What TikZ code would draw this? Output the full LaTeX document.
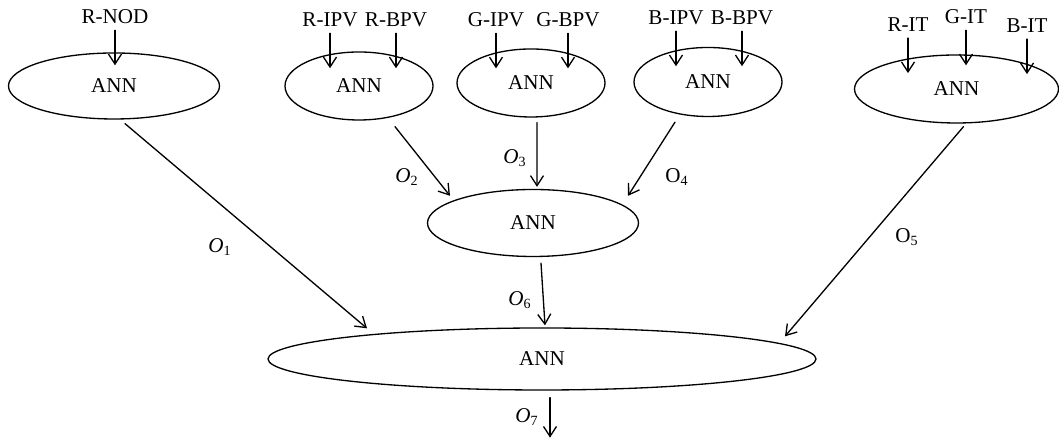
\documentclass[tikz,border=0pt]{standalone}
\usepackage{fontspec}
\setmainfont{Liberation Serif}
\usepackage{tikz}
\usetikzlibrary{calc,shapes.geometric,arrows.meta}
\tikzset{
  every picture/.style={line cap=round, line join=round},
  net/.style={draw=black, ellipse, inner sep=0pt, line width=0.75pt, font=\fontsize{12}{14}\selectfont},
  inp/.style={text=black, font=\fontsize{12}{14}\selectfont},
  arr/.style={draw=black, line width=0.75pt, -{Straight Barb[length=2mm, width=2.6mm]}},
  lab/.style={text=black, font=\fontsize{12}{14}\selectfont}
}

\begin{document}
\begin{tikzpicture}
  \useasboundingbox (0,0) rectangle (21.18,8.76);

  % first layer networks
  \node[net, minimum width=4.22cm, minimum height=1.32cm] (e1) at (2.28,7.04) {ANN};
  \node[net, minimum width=2.96cm, minimum height=1.36cm] (e2) at (7.18,7.04) {ANN};
  \node[net, minimum width=2.96cm, minimum height=1.36cm] (e3) at (10.62,7.10) {ANN};
  \node[net, minimum width=2.96cm, minimum height=1.38cm] (e4) at (14.16,7.12) {ANN};
  \node[net, minimum width=4.08cm, minimum height=1.36cm] (e5) at (19.13,6.98) {ANN};

  % second and third layer
  \node[net, minimum width=4.22cm, minimum height=1.34cm] (e6) at (10.66,4.30) {ANN};
  \node[net, minimum width=10.96cm, minimum height=1.24cm] (e7) at (10.84,1.58) {ANN};

  % inputs
  \node[inp] (rnod) at (2.30,8.42) {R-NOD};
  \node[inp] (ripv) at (6.60,8.36) {R-IPV};
  \node[inp] (rbpv) at (7.92,8.36) {R-BPV};
  \node[inp] (gipv) at (9.92,8.36) {G-IPV};
  \node[inp] (gbpv) at (11.36,8.36) {G-BPV};
  \node[inp] (bipv) at (13.52,8.40) {B-IPV};
  \node[inp] (bbpv) at (14.84,8.40) {B-BPV};
  \node[inp] (rit) at (18.16,8.26) {R-IT};
  \node[inp] (git) at (19.32,8.42) {G-IT};
  \node[inp] (bit) at (20.54,8.24) {B-IT};

  \foreach \n in {rnod,ripv,rbpv,gipv,gbpv,bipv,bbpv,rit,git,bit}
    \draw[arr] (\n.south) -- ++(0,-0.70);

  % outputs between layers
  \draw[arr] ($(e1.south)+(0.22,-0.08)$) -- ($(e7.north)+(-3.50,-0.02)$);
  \draw[arr] ($(e2.south)+(0.72,-0.12)$) -- ($(e6.north)+(-1.66,-0.14)$);
  \draw[arr] ($(e3.south)+(0.12,-0.10)$) -- ($(e6.north)+(0.08,0.04)$);
  \draw[arr] ($(e4.south)+(-0.66,-0.10)$) -- ($(e6.north)+(1.90,-0.14)$);
  \draw[arr] ($(e5.south)+(0.14,-0.06)$) -- ($(e7.north)+(4.86,-0.18)$);
  \draw[arr] ($(e6.south)+(0.16,-0.12)$) -- ($(e7.north)+(0.06,0.04)$);
  \coordinate (out) at ($(e7.south)+(0.16,-0.94)$);
  \draw[arr] ($(e7.south)+(0.16,-0.14)$) -- (out);

  % output labels
  \node[lab] (o1) at (4.40,3.82) {\textit{O}\textsubscript{1}};
  \node[lab] (o2) at (8.14,5.22) {\textit{O}\textsubscript{2}};
  \node[lab] (o3) at (10.30,5.60) {\textit{O}\textsubscript{3}};
  \node[lab] (o4) at (13.54,5.22) {O\textsubscript{4}};
  \node[lab] (o5) at (18.14,4.02) {O\textsubscript{5}};
  \node[lab] (o6) at (10.40,2.76) {\textit{O}\textsubscript{6}};
  \node[lab] (o7) at (10.54,0.42) {\textit{O}\textsubscript{7}};
\end{tikzpicture}
\end{document}
